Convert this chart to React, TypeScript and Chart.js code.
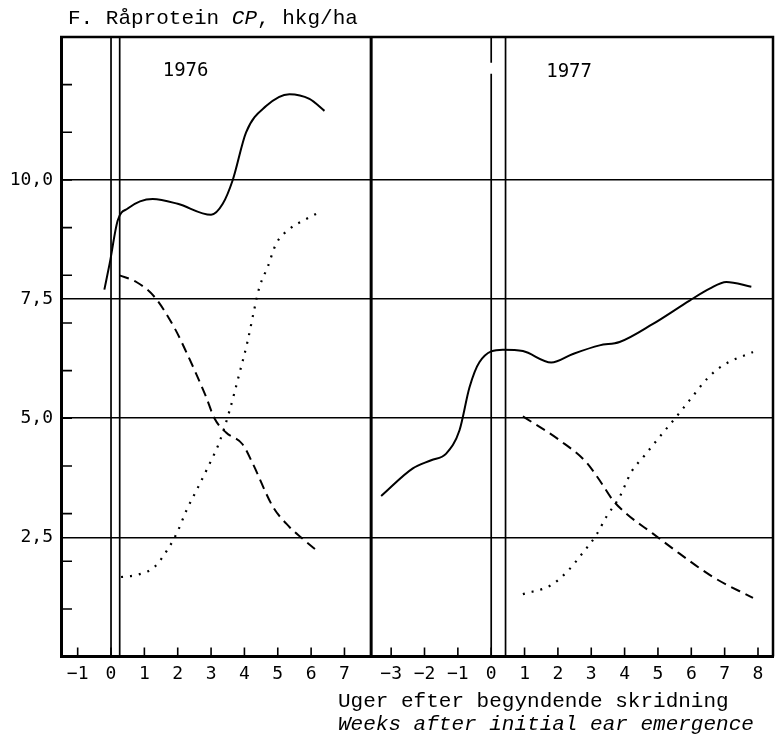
import React, { useEffect, useRef } from "react";
import { Chart, registerables } from "chart.js";
Chart.register(...registerables);

// ---- axis setup ----
const yMin = 0;
const yMax = 13;
const yLabelTicks = [2.5, 5, 7.5, 10];
const yMinorTicks = [1, 2, 3, 4, 5, 6, 7, 8, 9, 10, 11, 12];
const panel76Range = [-1.5, 7.8];
const panel77Range = [-3.6, 8.45];
const ticks76 = [-1, 0, 1, 2, 3, 4, 5, 6, 7];
const ticks77 = [-3, -2, -1, 0, 1, 2, 3, 4, 5, 6, 7, 8];
const emergence76 = [0, 0.26];
const emergence77 = [0, 0.43];
const gap77 = [12.23, 12.46];

// ---- 1976 ----
const weeks76Solid = [-0.2, -0.04, 0.2, 0.5, 1.25, 2.0, 3.0, 3.35, 3.65, 4.05, 4.65, 5.35, 5.95, 6.4];
const cp76Solid = [7.7, 8.25, 9.15, 9.4, 9.6, 9.5, 9.27, 9.5, 10.0, 11.0, 11.55, 11.8, 11.7, 11.45];
const weeks76Dashed = [0.25, 0.76, 1.3, 1.9, 2.25, 2.85, 3.1, 3.45, 3.95, 4.25, 4.85, 5.35, 5.7, 6.25];
const cp76Dashed = [8.0, 7.86, 7.55, 6.9, 6.4, 5.45, 5.0, 4.7, 4.45, 4.05, 3.15, 2.72, 2.5, 2.18];
const weeks76Dotted = [0.3, 0.75, 1.3, 1.7, 2.0, 2.25, 2.6, 2.93, 3.25, 3.55, 3.85, 4.1, 4.3, 4.45, 4.7, 4.95, 5.35, 5.85, 6.3];
const cp76Dotted = [1.67, 1.71, 1.88, 2.25, 2.63, 3.05, 3.54, 4.01, 4.5, 5.15, 5.94, 6.63, 7.3, 7.75, 8.18, 8.66, 8.97, 9.18, 9.34];

// ---- 1977 ----
const weeks77Solid = [-3.3, -2.35, -1.8, -1.35, -0.95, -0.65, -0.35, 0.35, 0.95, 1.8, 2.45, 3.25, 3.85, 4.85, 5.95, 6.55, 7.05, 7.8];
const cp77Solid = [3.37, 3.95, 4.12, 4.26, 4.75, 5.65, 6.18, 6.44, 6.41, 6.17, 6.35, 6.53, 6.6, 6.98, 7.47, 7.72, 7.86, 7.76];
const weeks77Dashed = [0.95, 2.05, 2.85, 3.25, 3.65, 4.05, 4.85, 5.65, 6.65, 7.85];
const cp77Dashed = [5.04, 4.54, 4.08, 3.7, 3.28, 3.0, 2.58, 2.16, 1.67, 1.23];
const weeks77Dotted = [0.95, 1.8, 2.3, 2.75, 3.15, 3.45, 3.85, 4.2, 4.6, 5.05, 5.55, 5.95, 6.5, 6.95, 7.85];
const cp77Dotted = [1.31, 1.5, 1.8, 2.18, 2.55, 2.93, 3.35, 3.87, 4.22, 4.61, 5.03, 5.38, 5.85, 6.11, 6.39];

// ---- texts ----
const titleParts = ["F. Råprotein ", "CP", ", hkg/ha"];
const xTitle1 = "Uger efter begyndende skridning";
const xTitle2 = "Weeks after initial ear emergence";
const year76 = "1976";
const year77 = "1977";

const OFF77 = panel76Range[1] - panel77Range[0]; // virtual x offset of 1977 panel
const X_MAX = panel77Range[1] + OFF77;

const MONO_SERIF = "'Liberation Mono', 'Courier New', monospace";
const MONO_SANS = "'DejaVu Sans Mono', monospace";

function pts(xs: number[], ys: number[], off = 0) {
  return xs.map((x, i) => ({ x: x + off, y: ys[i] }));
}

function toWeek(v: number) {
  const w = v > panel76Range[1] ? v - OFF77 : v;
  const r = Math.round(w);
  return r < 0 ? "\u2212" + Math.abs(r) : String(r);
}

const decorPlugin = {
  id: "decor",
  afterDatasetsDraw(chart: any) {
    const { ctx, chartArea: a, scales } = chart;
    const x = scales.x;
    const y = scales.y;
    ctx.save();
    ctx.strokeStyle = "#000";
    ctx.fillStyle = "#000";
    // frame top and right
    ctx.lineWidth = 2.5;
    ctx.beginPath();
    ctx.moveTo(a.left - 1, a.top);
    ctx.lineTo(a.right, a.top);
    ctx.lineTo(a.right, a.bottom);
    ctx.stroke();
    // inward y ticks
    ctx.lineWidth = 1.6;
    ctx.beginPath();
    for (const v of yMinorTicks) {
      const py = y.getPixelForValue(v);
      ctx.moveTo(a.left, py);
      ctx.lineTo(a.left + 11, py);
    }
    ctx.stroke();
    // inward x ticks
    ctx.beginPath();
    const allTicks = [...ticks76, ...ticks77.map((t) => t + OFF77)];
    for (const v of allTicks) {
      const px = x.getPixelForValue(v);
      ctx.moveTo(px, a.bottom);
      ctx.lineTo(px, a.bottom - 9);
    }
    ctx.stroke();
    ctx.restore();
  },
  afterDraw(chart: any) {
    const { ctx, scales } = chart;
    const x = scales.x;
    const y = scales.y;
    ctx.save();
    ctx.fillStyle = "#000";
    ctx.textBaseline = "alphabetic";
    ctx.textAlign = "left";
    // title
    let tx = 68;
    const fonts = [`21px ${MONO_SERIF}`, `italic 21px ${MONO_SERIF}`, `21px ${MONO_SERIF}`];
    titleParts.forEach((p, i) => {
      ctx.font = fonts[i];
      ctx.fillText(p, tx, 24);
      tx += ctx.measureText(p).width;
    });
    // x titles
    ctx.font = `21px ${MONO_SERIF}`;
    ctx.fillText(xTitle1, 338, 707);
    ctx.font = `italic 21px ${MONO_SERIF}`;
    ctx.fillText(xTitle2, 338, 730);
    // year labels
    ctx.font = `19px ${MONO_SANS}`;
    ctx.fillText(year76, x.getPixelForValue(1.55), y.getPixelForValue(12.19));
    ctx.fillText(year77, x.getPixelForValue(1.65 + OFF77), y.getPixelForValue(12.17));
    ctx.restore();
  },
};

export default function App() {
  const ref = useRef<HTMLCanvasElement | null>(null);
  useEffect(() => {
    if (!ref.current) return;
    const solid = { borderColor: "#000", borderWidth: 2, pointRadius: 0, cubicInterpolationMode: "monotone" as const, fill: false };
    const dashed = { ...solid, borderDash: [10, 6] };
    const dotted = { ...solid, borderDash: [2, 7], borderWidth: 2.2 };
    const vline = { borderColor: "#000", borderWidth: 1.7, pointRadius: 0, tension: 0, fill: false, spanGaps: false };

    const datasets: any[] = [
      ...emergence76.map((w) => ({ ...vline, data: [{ x: w, y: yMin }, { x: w, y: yMax }] })),
      {
        ...vline,
        data: [
          { x: emergence77[0] + OFF77, y: yMin },
          { x: emergence77[0] + OFF77, y: gap77[0] },
          { x: emergence77[0] + OFF77, y: null },
          { x: emergence77[0] + OFF77, y: gap77[1] },
          { x: emergence77[0] + OFF77, y: yMax },
        ],
      },
      { ...vline, data: [{ x: emergence77[1] + OFF77, y: yMin }, { x: emergence77[1] + OFF77, y: yMax }] },
      { ...vline, borderWidth: 3, data: [{ x: panel76Range[1], y: yMin }, { x: panel76Range[1], y: yMax }] },
      { ...solid, data: pts(weeks76Solid, cp76Solid) },
      { ...dashed, data: pts(weeks76Dashed, cp76Dashed) },
      { ...dotted, data: pts(weeks76Dotted, cp76Dotted) },
      { ...solid, data: pts(weeks77Solid, cp77Solid, OFF77) },
      { ...dashed, data: pts(weeks77Dashed, cp77Dashed, OFF77) },
      { ...dotted, data: pts(weeks77Dotted, cp77Dotted, OFF77) },
    ];

    const chart = new Chart(ref.current, {
      type: "line",
      data: { datasets },
      plugins: [decorPlugin],
      options: {
        responsive: false,
        animation: false,
        parsing: true,
        layout: { padding: { top: 37, right: 2, left: 0, bottom: 0 } },
        plugins: { legend: { display: false }, tooltip: { enabled: false }, title: { display: false } },
        scales: {
          x: {
            type: "linear",
            min: panel76Range[0],
            max: X_MAX,
            afterBuildTicks: (s: any) => {
              s.ticks = [...ticks76, ...ticks77.map((t) => t + OFF77)].map((v) => ({ value: v }));
            },
            afterFit: (s: any) => {
              s.height = 85.4;
            },
            grid: { display: false, drawTicks: false },
            border: { display: true, color: "#000", width: 3 },
            ticks: {
              color: "#000",
              font: { family: MONO_SANS, size: 18 },
              padding: 7,
              maxRotation: 0,
              autoSkip: false,
              callback: (v: any) => toWeek(Number(v)),
            },
          },
          y: {
            type: "linear",
            min: yMin,
            max: yMax,
            afterBuildTicks: (s: any) => {
              s.ticks = yLabelTicks.map((v) => ({ value: v }));
            },
            afterFit: (s: any) => {
              s.width = 61;
            },
            grid: { color: "#000", lineWidth: 1.6, drawTicks: false },
            border: { display: true, color: "#000", width: 3 },
            ticks: {
              color: "#000",
              font: { family: MONO_SANS, size: 18 },
              padding: 8,
              autoSkip: false,
              callback: (v: any) => Number(v).toFixed(1).replace(".", ","),
            },
          },
        },
      },
    });
    return () => chart.destroy();
  }, []);

  return (
    <div style={{ position: "fixed", left: 0, top: 0, width: 775, height: 742, background: "#fff" }}>
      <canvas ref={ref} width={775} height={742} style={{ display: "block" }} />
    </div>
  );
}
